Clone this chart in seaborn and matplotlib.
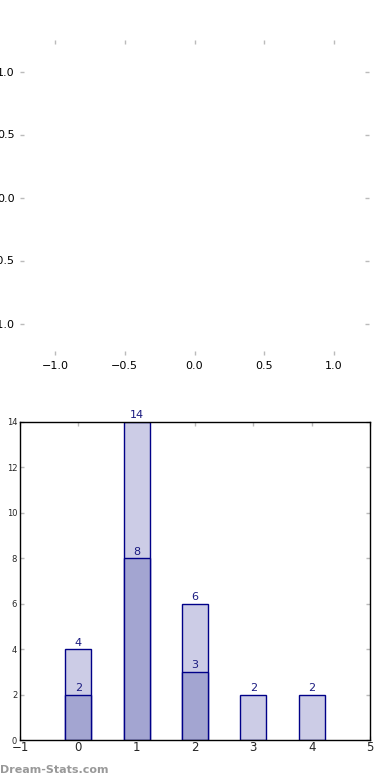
import matplotlib
matplotlib.use("Agg")
import matplotlib.pyplot as plt
import seaborn as sns
import pandas as pd

# data
positions_all = [0, 1, 2, 3, 4]
values_all = [4, 14, 6, 2, 2]
positions_sub = [0, 1, 2]
values_sub = [2, 8, 3]
x_ticks = [-1, 0, 1, 2, 3, 4, 5]
y_ticks = [0, 2, 4, 6, 8, 10, 12, 14]
pie_ticks = [-1.0, -0.5, 0.0, 0.5, 1.0]

sns.set_style("white")
plt.rcParams['font.family'] = ['DejaVu Sans']

fig = plt.figure(figsize=(3.9, 7.8), dpi=100)

# top (empty pie-style) axes
ax1 = fig.add_axes([20/390, 1 - 355/780, 349/390, 315/780])
ax1.set_xlim(-1.25, 1.25)
ax1.set_ylim(-1.25, 1.25)
ax1.set_xticks(pie_ticks)
ax1.set_yticks(pie_ticks)
for s in ax1.spines.values():
    s.set_visible(False)
ax1.tick_params(axis='both', which='both', direction='in', length=3, width=1,
                color='#bbbbbb', labelsize=8, labelcolor='black',
                top=True, right=True, bottom=True, left=True, pad=4)

# bottom bar axes
ax2 = fig.add_axes([20/390, 40/780, 350/390, 318.3/780])
df_all = pd.DataFrame({"x": positions_all, "y": values_all})
df_sub = pd.DataFrame({"x": positions_sub, "y": values_sub})
sns.barplot(data=df_all, x="x", y="y", native_scale=True, color="#cccce6",
            saturation=1, edgecolor="#000088", linewidth=1, width=0.45, ax=ax2)
sns.barplot(data=df_sub, x="x", y="y", native_scale=True, color="#a3a5d1",
            saturation=1, edgecolor="#000088", linewidth=1, width=0.45, ax=ax2)
for c in ax2.containers:
    ax2.bar_label(c, padding=1, color="#1a1a80", fontsize=8)
ax2.set_xlim(-1, 5)
ax2.set_ylim(0, 14)
ax2.set_xticks(x_ticks)
ax2.set_xticklabels([str(t).replace("-", "\u2212") for t in x_ticks])
ax2.set_yticks(y_ticks)
ax2.set_xlabel("")
ax2.set_ylabel("")
for s in ax2.spines.values():
    s.set_visible(True)
    s.set_color("black")
    s.set_linewidth(1)
ax2.tick_params(axis='both', direction='in', length=3, width=1, color='#bbbbbb',
                top=True, right=True, bottom=True, left=True)
ax2.tick_params(axis='x', labelsize=8.5, pad=0.5)
ax2.tick_params(axis='y', labelsize=6, pad=2)

fig.text(0.0, 10/780, "Dream-Stats.com", color="#999999", fontsize=8,
         fontweight="bold", ha="left", va="center")

fig.savefig("out.png", dpi=100)
